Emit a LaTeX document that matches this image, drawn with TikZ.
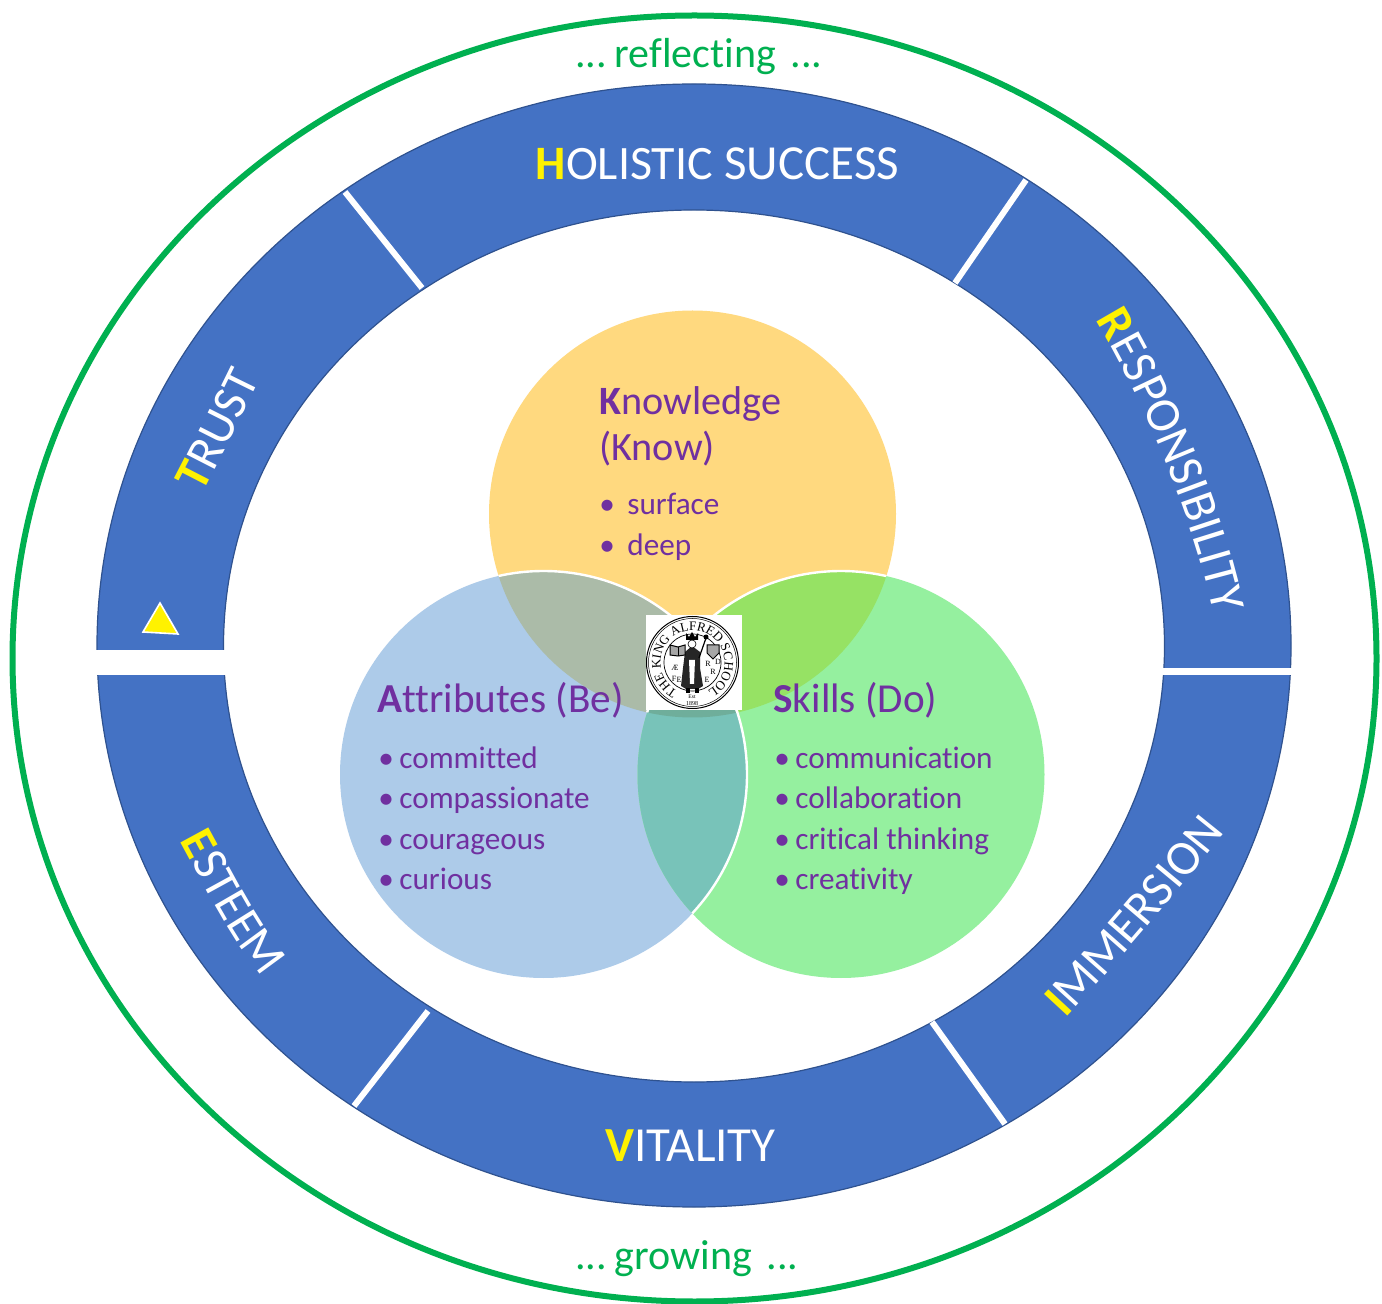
\documentclass[tikz,border=0pt]{standalone}
\usepackage{fontspec}
\setmainfont[Ligatures=NoCommon]{Carlito}
\newfontfamily\sealfont{Liberation Serif}
\usetikzlibrary{decorations.text}
\definecolor{ringblue}{HTML}{4472C4}
\definecolor{ringedge}{HTML}{2F528F}
\definecolor{ringgreen}{HTML}{00B050}
\definecolor{txtpurple}{HTML}{7030A0}
\definecolor{kfill}{HTML}{FFD97F}
\definecolor{afill}{HTML}{ADCBE9}
\definecolor{sfill}{HTML}{95F09F}
\definecolor{kafill}{HTML}{ABBBA8}
\definecolor{ksfill}{HTML}{96E264}
\definecolor{asfill}{HTML}{78C3B9}
\definecolor{ksafill}{HTML}{6FAE9B}
\tikzset{
  x=0.5pt,y=-0.5pt,
  ringtxt/.style={text=white,font=\fontsize{24.5}{24}\selectfont,inner sep=0pt},
  headtxt/.style={text=txtpurple,font=\fontsize{20.4}{23}\selectfont,inner sep=0pt,anchor=base west,align=left},
  itemtxt/.style={text=txtpurple,font=\fontsize{15.6}{15}\selectfont,inner sep=0pt,anchor=base west},
  greentxt/.style={text=ringgreen,font=\fontsize{21}{20}\selectfont,inner sep=0pt,anchor=base west},
  sep/.style={draw=white,line width=3pt},
  seal/.style={inner sep=0pt,text=black},
  sealline/.style={draw=black,line width=0.5pt},
}
\def\ringtextY#1#2{|\bfseries\fontsize{24.5}{24}\selectfont\color{yellow}|#1|\mdseries\fontsize{24.5}{24}\selectfont\color{white}|#2}
\begin{document}
\begin{tikzpicture}
\useasboundingbox (0,0) rectangle (1382,1304);
\fill[white] (0,0) rectangle (1382,1304);
% outer ring
\draw[ringgreen,line width=3pt] (694.5,658.5) ellipse [x radius=682,y radius=643];
% blue ring
\fill[ringblue,even odd rule,draw=ringedge,line width=0.6pt]
  (694,645.5) ellipse [x radius=597,y radius=561.5]
  (694,646) ellipse [x radius=470.5,y radius=436];
\fill[white] (92,650) rectangle (228,675);
\fill[white] (1160,668) rectangle (1296,675);
\coordinate (s1a) at (345,192); \coordinate (s1b) at (422,288);
\coordinate (s2a) at (1026,180); \coordinate (s2b) at (955,283);
\coordinate (s3a) at (428,1011); \coordinate (s3b) at (354,1106);
\coordinate (s4a) at (932,1022); \coordinate (s4b) at (1005,1124);
\draw[sep] (s1a) -- (s1b);
\draw[sep] (s2a) -- (s2b);
\draw[sep] (s3a) -- (s3b);
\draw[sep] (s4a) -- (s4b);
\fill[yellow,draw=white,line width=0.8pt] (160,603) -- (143,632) -- (178,634) -- cycle;
% Venn circles
\coordinate (kc) at (692.5,514);
\coordinate (ac) at (543.5,774.5);
\coordinate (sc) at (841,774.5);
\def\rr{203.5}
\fill[kfill] (kc) circle [radius=\rr];
\fill[afill] (ac) circle [radius=\rr];
\fill[sfill] (sc) circle [radius=\rr];
\begin{scope}\clip (kc) circle [radius=\rr]; \fill[kafill] (ac) circle [radius=\rr]; \end{scope}
\begin{scope}\clip (kc) circle [radius=\rr]; \fill[ksfill] (sc) circle [radius=\rr]; \end{scope}
\begin{scope}\clip (ac) circle [radius=\rr]; \fill[asfill] (sc) circle [radius=\rr]; \end{scope}
\begin{scope}\clip (kc) circle [radius=\rr]; \clip (ac) circle [radius=\rr]; \fill[ksafill] (sc) circle [radius=\rr]; \end{scope}
\begin{scope}\clip (kc) circle [radius=\rr]; \draw[white,line width=1.2pt] (ac) circle [radius=\rr]; \draw[white,line width=1.2pt] (sc) circle [radius=\rr]; \end{scope}
\begin{scope}\clip (sc) circle [radius=\rr]; \draw[white,line width=1.2pt] (ac) circle [radius=\rr]; \end{scope}
% ring labels
\node[ringtxt,anchor=base west,font=\fontsize{24}{24}\selectfont] (hol) at (535.5,179.5) {\textcolor{yellow}{\bfseries H}OLISTIC};
\node[ringtxt,anchor=base west] (suc) at (724,179.5) {SUCCESS};
\node[ringtxt,anchor=base] (vit) at (690.5,1161) {\textcolor{yellow}{\bfseries V}ITALITY};
\path[decorate,decoration={text along path,text align=center,text={\ringtextY{R}{ESPONSIBILITY}}}]
  (1100,327) .. controls (1143,400) and (1193,518) .. (1212,606);
\path[decorate,decoration={text along path,text align=center,text={\ringtextY{I}{MMERSION}}}]
  (1060,1024) .. controls (1120,960) and (1175,895) .. (1230,826);
\path[decorate,decoration={text along path,text align=center,text={\ringtextY{T}{RUST}}}]
  (203,493) .. controls (220,460) and (238,425) .. (260,380);
\path[decorate,decoration={text along path,text align=center,text={\ringtextY{E}{STEEM}}}]
  (176,834) .. controls (200,876) and (230,941) .. (268,983);
% Venn text
\node[headtxt,font=\fontsize{20.1}{23}\selectfont] (khead) at (599,415) {\textbf{K}nowledge};
\node[headtxt,font=\fontsize{20.1}{23}\selectfont] (khead2) at (599,461) {(Know)};
\node[itemtxt] (k1b) at (599,515) {•};
\node[itemtxt] (k1) at (627,515) {surface};
\node[itemtxt] (k2b) at (599,556) {•};
\node[itemtxt] (k2) at (627,556) {deep};
\node[headtxt,font=\fontsize{20.6}{23}\selectfont] (ahead) at (377,712) {\textbf{A}ttributes (Be)};
\node[itemtxt] (a1b) at (378,769) {•}; \node[itemtxt] (a1) at (399,769) {committed};
\node[itemtxt] (a2b) at (378,808) {•}; \node[itemtxt] (a2) at (399,808) {compassionate};
\node[itemtxt] (a3b) at (378,849) {•}; \node[itemtxt] (a3) at (399,849) {courageous};
\node[itemtxt] (a4b) at (378,889) {•}; \node[itemtxt] (a4) at (399,889) {curious};
\node[headtxt,font=\fontsize{20.6}{23}\selectfont] (shead) at (773,712) {\textbf{S}kills (Do)};
\node[itemtxt] (s1b) at (774,769) {•}; \node[itemtxt] (s1) at (795,769) {communication};
\node[itemtxt] (s2b) at (774,808) {•}; \node[itemtxt] (s2) at (795,808) {collaboration};
\node[itemtxt] (s3b) at (774,849) {•}; \node[itemtxt] (s3) at (795,849) {critical thinking};
\node[itemtxt] (s4b) at (774,889) {•}; \node[itemtxt] (s4) at (795,889) {creativity};
% green text
\node[greentxt] (refl) at (575,68) {...\hspace{-2.5pt} reflecting\hspace{2.5pt} ...};
\node[greentxt] (grow) at (575,1269) {...\hspace{-2.5pt} growing\hspace{2.5pt} ...};
% logo
\fill[white] (645.5,615) rectangle (741.5,710);
\coordinate (lc) at (692.5,662.5);
\draw[sealline] (lc) circle [radius=46];
\draw[sealline,line width=0.25pt] (lc) circle [radius=44];
\draw[sealline,line width=0.35pt] (lc) circle [radius=28.5];
\begin{scope}[shift={(lc)},x=0.5pt,y=0.5pt]
\path[decorate,decoration={text along path,text align=center,text={|\sealfont\fontsize{6.5}{6}\selectfont\color{black}|THE KING ALFRED SCHOOL}}]
  (238:32) arc [start angle=238,end angle=-58,radius=32];
\end{scope}
\node[seal,font=\sealfont\fontsize{2.8}{3}\selectfont] (est) at (692,697) {Est};
\node[seal,font=\sealfont\fontsize{3}{3}\selectfont] (yr) at (692,704) {1898};
\node[seal,font=\sealfont\fontsize{4}{4}\selectfont] (lae) at (675,668) {Æ};
\node[seal,font=\sealfont\fontsize{4}{4}\selectfont] (lf) at (674,679) {F};
\node[seal,font=\sealfont\fontsize{4}{4}\selectfont] (le) at (679,680) {E};
\node[seal,font=\sealfont\fontsize{4}{4}\selectfont] (lr) at (708,664) {R};
\node[seal,font=\sealfont\fontsize{4}{4}\selectfont] (ld) at (718,662) {D};
\node[seal,font=\sealfont\fontsize{4}{4}\selectfont] (lr2) at (713,672) {R};
\node[seal,font=\sealfont\fontsize{4}{4}\selectfont] (le2) at (707,680) {E};
% king figure
\fill[black!85] (692,646) -- (685,652) -- (683,668) -- (681,686) -- (686,689) -- (698,689) -- (703,686) -- (700,668) -- (700,652) -- cycle;
\fill[black] (686,693) rectangle (690,688);
\fill[black] (695,693) rectangle (699,688);
\fill[white] (689,660) -- (695,660) -- (694,684) -- (690,684) -- cycle;
\fill[black] (686,640) -- (686,633) -- (689,637) -- (692,632) -- (695,637) -- (698,633) -- (698,640) -- cycle;
\fill[white,draw=black,line width=0.3pt] (692,644) circle [radius=4];
\draw[black,line width=0.6pt] (699,658) -- (706,638);
\fill[black] (706,637) circle [radius=2.5];
\draw[black,line width=0.5pt,fill=black!35] (670,645) -- (678,647) -- (685,645) -- (685,655) -- (678,656) -- (670,655) -- cycle;
\draw[black,line width=0.5pt] (678,647) -- (678,656);
\draw[black,line width=0.5pt,fill=black!35] (707,645) -- (719,645) -- (719,653) -- (713,659) -- (707,653) -- cycle;
\end{tikzpicture}
\end{document}
